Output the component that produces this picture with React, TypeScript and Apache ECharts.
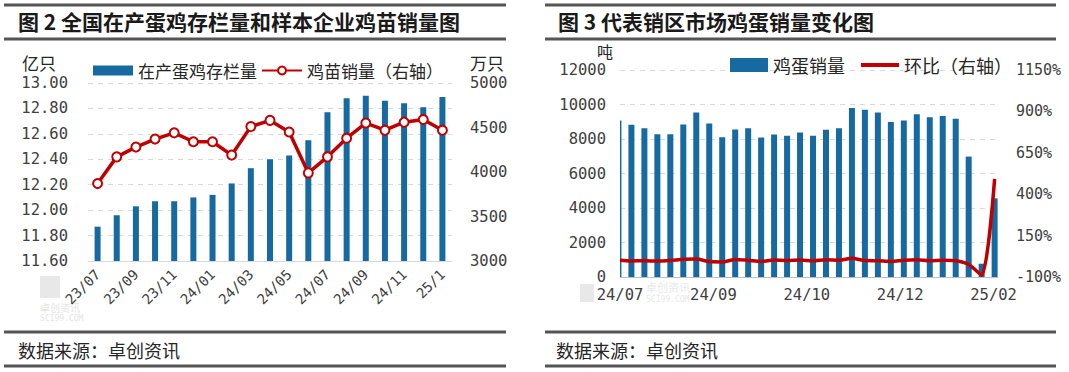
import React, { useEffect, useRef } from 'react';
import * as echarts from 'echarts';

// ---- Chart 2: national laying-hen stock & sample chick sales ----
const months = ['23/07', '23/08', '23/09', '23/10', '23/11', '23/12', '24/01', '24/02', '24/03', '24/04', '24/05', '24/06', '24/07', '24/08', '24/09', '24/10', '24/11', '24/12', '25/1'];
const layerStock = [11.87, 11.96, 12.03, 12.07, 12.07, 12.10, 12.12, 12.21, 12.33, 12.40, 12.43, 12.55, 12.77, 12.88, 12.90, 12.86, 12.84, 12.81, 12.89];
const chickSales = [3870, 4170, 4280, 4370, 4440, 4340, 4340, 4190, 4510, 4580, 4450, 3990, 4170, 4380, 4550, 4470, 4560, 4590, 4470];

// ---- Chart 3: representative sales-area egg sales (weekly) ----
const eggSales = [9070, 8820, 8630, 8280, 8280, 8840, 9530, 8900, 8100, 8550, 8630, 8090, 8260, 8190, 8370, 8190, 8530, 8630, 9790, 9690, 9530, 8980, 9070, 9440, 9260, 9340, 9170, 6980, 770, 4560];
const momChange = [3, -3, -2, -4, 0, 7, 8, -7, -9, 6, 1, -6, 2, -1, 2, -2, 4, 1, 13, -1, -2, -6, 1, 4, -2, 1, -2, -24, -89, 492];
const weekTickLabels = ['24/07', '24/09', '24/10', '24/12', '25/02'];

const CJK = '"Noto Sans CJK SC", "Noto Sans", sans-serif';
const NUM = '"DejaVu Sans Mono", monospace';
const BLUE = '#176aa1';
const RED = '#c00000';
const LABEL = '#404040';

export default function App() {
  const ref = useRef<HTMLDivElement>(null);
  useEffect(() => {
    const chart = echarts.init(ref.current as HTMLDivElement, null, { renderer: 'svg' });
    const X_MIN = 0.12;
    const X_MAX = 29.26;
    const X_STEP = 7.2;

    const hLine = (x1: number, x2: number, y: number, w: number) => ({
      type: 'line',
      shape: { x1, y1: y, x2, y2: y },
      style: { stroke: '#555555', lineWidth: w },
      silent: true,
    });
    const txt = (x: number, y: number, text: string, font: string, fill: string, align = 'left') => ({
      type: 'text',
      x,
      y,
      style: { text, font, fill, align, verticalAlign: 'middle' },
      silent: true,
    });

    const option: any = {
      animation: false,
      backgroundColor: '#ffffff',
      graphic: [
        hLine(4, 506, 5, 3),
        hLine(4, 506, 39, 3),
        hLine(4, 506, 332, 3),
        hLine(4, 506, 366, 3),
        hLine(545, 1056, 5, 3),
        hLine(545, 1056, 39, 3),
        hLine(545, 1056, 332, 3),
        hLine(545, 1056, 366, 3),
        txt(18, 21, '图 2 全国在产蛋鸡存栏量和样本企业鸡苗销量图', `bold 21px ${CJK}`, '#1a1a1a'),
        txt(558, 21, '图 3 代表销区市场鸡蛋销量变化图', `bold 21px ${CJK}`, '#1a1a1a'),
        txt(18, 350, '数据来源：卓创资讯', `18px ${CJK}`, '#262626'),
        txt(556, 350, '数据来源：卓创资讯', `18px ${CJK}`, '#262626'),
        txt(22, 62, '亿只', `17px ${CJK}`, '#262626'),
        txt(470, 62, '万只', `17px ${CJK}`, '#262626'),
        txt(597, 51, '吨', `16px ${CJK}`, '#262626'),
        // mask: the plot area of chart 3 cuts its first weekly bar at the left edge
        { type: 'rect', shape: { x: 608, y: 68, width: 12, height: 210 }, style: { fill: '#ffffff' }, silent: true, z: 50 },
        // watermarks
        { type: 'rect', shape: { x: 40, y: 276, width: 20, height: 22 }, style: { fill: '#e8e8e8' }, silent: true, z: -1 },
        txt(40, 307, '卓创资讯', `10px ${CJK}`, '#e4e4e4'),
        txt(40, 318, 'SCI99.COM', `8px ${NUM}`, '#e4e4e4'),
        { type: 'rect', shape: { x: 580, y: 284, width: 14, height: 18 }, style: { fill: '#e8e8e8' }, silent: true, z: -1 },
        txt(646, 287, '卓创资讯', `11px ${CJK}`, '#e8e8e8'),
        txt(646, 299, 'SCI99.COM', `8px ${NUM}`, '#e8e8e8'),
      ],
      legend: [
        {
          left: 88,
          top: 57,
          itemWidth: 40,
          itemHeight: 10,
          itemGap: 4,
          textStyle: { fontSize: 17, color: '#262626', fontFamily: CJK },
          data: [{ name: '在产蛋鸡存栏量', icon: 'rect' }, { name: '鸡苗销量（右轴）' }],
        },
        {
          left: 725,
          top: 51,
          itemWidth: 38,
          itemHeight: 14,
          itemGap: 16,
          symbolKeepAspect: true,
          textStyle: { fontSize: 18, color: '#262626', fontFamily: CJK },
          data: [
            { name: '鸡蛋销量', icon: 'rect' },
            { name: '环比（右轴）', icon: 'path://M0,0L40,0L40,4L0,4Z' },
          ],
        },
      ],
      grid: [
        { left: 88, top: 83, width: 364, height: 178 },
        { left: 620, top: 70, width: 378, height: 207 },
      ],
      xAxis: [
        {
          type: 'category',
          gridIndex: 0,
          data: months,
          boundaryGap: true,
          axisLine: { lineStyle: { color: '#d9d9d9' } },
          axisTick: { show: false },
          axisLabel: { interval: 1, rotate: 45, margin: 11, fontFamily: NUM, fontSize: 14, color: LABEL },
        },
        {
          type: 'value',
          gridIndex: 1,
          min: X_MIN,
          max: X_MAX,
          interval: X_STEP,
          splitLine: { show: false },
          axisTick: { show: false },
          axisLine: { lineStyle: { color: '#bfbfbf' } },
          axisLabel: {
            margin: 10,
            fontFamily: NUM,
            fontSize: 15.5,
            color: LABEL,
            formatter: (v: number) => {
              const idx = Math.round((v - X_MIN) / X_STEP);
              if (idx < 0 || idx >= weekTickLabels.length) return '';
              if (Math.abs(v - (X_MIN + idx * X_STEP)) > 0.05) return '';
              return weekTickLabels[idx];
            },
          },
        },
      ],
      yAxis: [
        {
          type: 'value',
          gridIndex: 0,
          position: 'left',
          min: 11.6,
          max: 13,
          interval: 0.2,
          axisLine: { show: false },
          axisTick: { show: false },
          splitLine: { lineStyle: { type: [5, 5], color: '#d9d9d9' } },
          axisLabel: { margin: 20, fontFamily: NUM, fontSize: 15.5, color: LABEL, formatter: (v: number) => v.toFixed(2) },
        },
        {
          type: 'value',
          gridIndex: 0,
          position: 'right',
          min: 3000,
          max: 5000,
          interval: 500,
          axisLine: { show: false },
          axisTick: { show: false },
          splitLine: { show: false },
          axisLabel: { margin: 18, fontFamily: NUM, fontSize: 15.5, color: LABEL, formatter: (v: number) => String(Math.round(v)) },
        },
        {
          type: 'value',
          gridIndex: 1,
          position: 'left',
          min: 0,
          max: 12000,
          interval: 2000,
          axisLine: { show: false },
          axisTick: { show: false },
          splitLine: { lineStyle: { type: [5, 5], color: '#d9d9d9' } },
          axisLabel: { margin: 14, fontFamily: NUM, fontSize: 15.5, color: LABEL, formatter: (v: number) => String(Math.round(v)) },
        },
        {
          type: 'value',
          gridIndex: 1,
          position: 'right',
          min: -100,
          max: 1150,
          interval: 250,
          axisLine: { show: false },
          axisTick: { show: false },
          splitLine: { show: false },
          axisLabel: { margin: 18, fontFamily: NUM, fontSize: 15, color: LABEL, formatter: (v: number) => `${Math.round(v)}%` },
        },
      ],
      series: [
        {
          name: '在产蛋鸡存栏量',
          type: 'bar',
          xAxisIndex: 0,
          yAxisIndex: 0,
          data: layerStock,
          barWidth: 6,
          itemStyle: { color: BLUE },
        },
        {
          name: '鸡苗销量（右轴）',
          type: 'line',
          xAxisIndex: 0,
          yAxisIndex: 1,
          data: chickSales,
          symbol: 'emptyCircle',
          symbolSize: 9,
          itemStyle: { color: RED, borderWidth: 2 },
          lineStyle: { color: RED, width: 3.5 },
        },
        {
          name: '鸡蛋销量',
          type: 'bar',
          xAxisIndex: 1,
          yAxisIndex: 2,
          data: eggSales.map((v, i) => [i, v]),
          barWidth: 6,
          itemStyle: { color: BLUE },
        },
        {
          name: '环比（右轴）',
          type: 'line',
          xAxisIndex: 1,
          yAxisIndex: 3,
          data: momChange.map((v, i) => [i, v]),
          showSymbol: false,
          symbol: 'none',
          smooth: 0.25,
          itemStyle: { color: RED },
          lineStyle: { color: RED, width: 3.5 },
        },
      ],
    };
    chart.setOption(option);
    return () => chart.dispose();
  }, []);
  return (
    <div
      ref={ref}
      style={{ position: 'fixed', left: 0, top: 0, width: 1069, height: 372, background: '#ffffff' }}
    />
  );
}
